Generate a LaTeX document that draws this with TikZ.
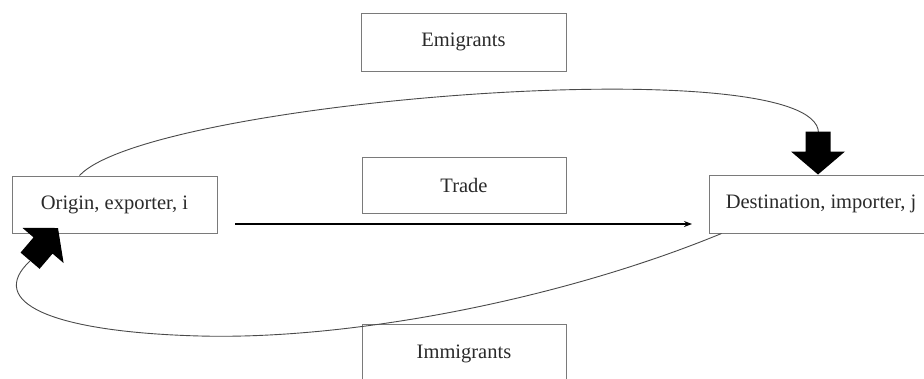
\documentclass[tikz,border=0pt]{standalone}
\usepackage{fontspec}
\setmainfont{Liberation Serif}
\usetikzlibrary{arrows.meta,calc}
\definecolor{boxline}{HTML}{7A7A7A}
\definecolor{curveline}{HTML}{4A4A4A}
\definecolor{txt}{HTML}{2A2A2A}
\tikzset{
  labelbox/.style={draw=boxline, line width=1pt, fill=white, inner sep=0pt,
    font=\fontsize{20.5}{24}\selectfont, text=txt},
  flowcurve/.style={draw=curveline, line width=0.9pt},
  blockarr/.pic={\fill[black] (0,0) -- (-23,-27) -- (-23,-12.5) -- (-43,-12.5) -- (-43,12.5) -- (-23,12.5) -- (-23,27) -- cycle;}
}
\begin{document}
\begin{tikzpicture}[x=1pt,y=-1pt]
\useasboundingbox (0,0) rectangle (924,378);
\clip (0,0) rectangle (924,378);
\fill[white] (0,0) rectangle (924,378);
% boxes
\node[labelbox, minimum width=205pt, minimum height=58pt] (emi) at (463.5,42) {Emigrants};
\node[labelbox, minimum width=204pt, minimum height=56pt] (trade) at (464,185) {Trade};
\node[labelbox, minimum width=205pt, minimum height=57pt] (origin) at (114.5,204.5) {Origin, exporter, i};
\node[labelbox, minimum width=224pt, minimum height=58pt] (dest) at (821,204) {Destination, importer, j};
\node[labelbox, minimum width=204pt, minimum height=60pt] (immi) at (464,354) {Immigrants};
% connector points
\coordinate (topS) at ($(origin.north west)+(68,0)$);
\coordinate (topE) at (818.5,133);
\coordinate (topTip) at ($(dest.north west)+(109.5,0)$);
\coordinate (botS) at ($(dest.south west)+(13,0)$);
\coordinate (botM) at (200,336);
\coordinate (botE) at (30,261);
\coordinate (botTip) at (58,228);
\coordinate (tradeS) at (235,224);
\coordinate (tradeE) at (692,224);
% emigrants curve (origin -> destination)
\draw[flowcurve] (topS) .. controls (150,100) and (818.5,48) .. (topE);
\pic at (topTip) [rotate=-90] {blockarr};
% immigrants curve (destination -> origin)
\draw[flowcurve] (botS) .. controls (560,300) and (350,340) .. (botM)
  .. controls (50,332) and (-14,302) .. (botE);
\pic at (botTip) [rotate=49.5] {blockarr};
% trade arrow
\draw[line width=1.6pt, -{Stealth[length=8pt,width=6pt]}] (tradeS) -- (tradeE);
\end{tikzpicture}
\end{document}
